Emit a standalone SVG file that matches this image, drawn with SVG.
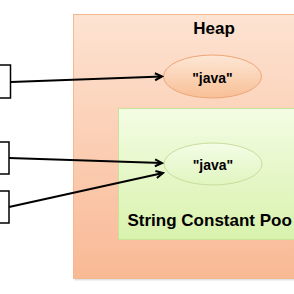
<svg xmlns="http://www.w3.org/2000/svg" width="294" height="294" viewBox="0 0 294 294">
<style>
.lbl{font-family:"Liberation Sans",Arial,sans-serif;font-weight:bold;fill:#000}
.ref{fill:#fff;stroke:#000;stroke-width:1.5}
.conn{stroke:#000;stroke-width:2;fill:none;marker-end:url(#arr)}
</style>
<defs>
<linearGradient id="heapG" x1="0" y1="0" x2="0" y2="1">
<stop offset="0" stop-color="#fde3d2"/>
<stop offset="1" stop-color="#f9b995"/>
</linearGradient>
<linearGradient id="poolG" x1="0" y1="0" x2="0" y2="1">
<stop offset="0" stop-color="#f3fce3"/>
<stop offset="1" stop-color="#d9f2ad"/>
</linearGradient>
<linearGradient id="ovalO" x1="0" y1="0" x2="0" y2="1">
<stop offset="0" stop-color="#fde7d6"/>
<stop offset="1" stop-color="#f8bf95"/>
</linearGradient>
<linearGradient id="ovalG" x1="0" y1="0" x2="0" y2="1">
<stop offset="0" stop-color="#f4fde6"/>
<stop offset="1" stop-color="#e0f5bf"/>
</linearGradient>
<marker id="arr" markerWidth="10" markerHeight="10" refX="8" refY="5" orient="auto" markerUnits="userSpaceOnUse">
<path d="M1,1.5 L8,5 L1,8.5" fill="none" stroke="#000" stroke-width="2"/>
</marker>
</defs>
<rect x="0" y="0" width="294" height="294" fill="#fff"/>
<g id="heap">
<rect x="74.5" y="15.5" width="222" height="265" fill="#dfe3e6"/>
<rect x="73.5" y="14.5" width="222" height="264" fill="url(#heapG)" stroke="#f4b78e" stroke-width="1"/>
<text class="lbl" x="214" y="34" font-size="17" text-anchor="middle">Heap</text>
</g>
<g id="java1">
<ellipse cx="212.5" cy="76.5" rx="49" ry="21.5" fill="url(#ovalO)" stroke="#eea577" stroke-width="1"/>
<text class="lbl" x="212.5" y="83" font-size="14" text-anchor="middle">"java"</text>
</g>
<g id="pool">
<rect x="118.5" y="108.5" width="180" height="131" fill="url(#poolG)" stroke="#c5e49a" stroke-width="1"/>
<text class="lbl" x="127.5" y="226" font-size="17">String Constant Poo</text>
</g>
<g id="java2">
<ellipse cx="213" cy="164" rx="49" ry="21" fill="url(#ovalG)" stroke="#c8dd9c" stroke-width="1"/>
<text class="lbl" x="213" y="170" font-size="14" text-anchor="middle">"java"</text>
</g>
<g id="ref1"><rect class="ref" x="-5" y="65" width="15.5" height="33"/></g>
<g id="ref2"><rect class="ref" x="-5" y="142" width="14" height="32"/></g>
<g id="ref3"><rect class="ref" x="-5" y="191" width="14" height="32"/></g>
<g id="connectors">
<line class="conn" x1="11" y1="82" x2="162" y2="76.5"/>
<line class="conn" x1="9" y1="158" x2="162" y2="163"/>
<line class="conn" x1="9" y1="207" x2="163" y2="173"/>
</g>
</svg>
